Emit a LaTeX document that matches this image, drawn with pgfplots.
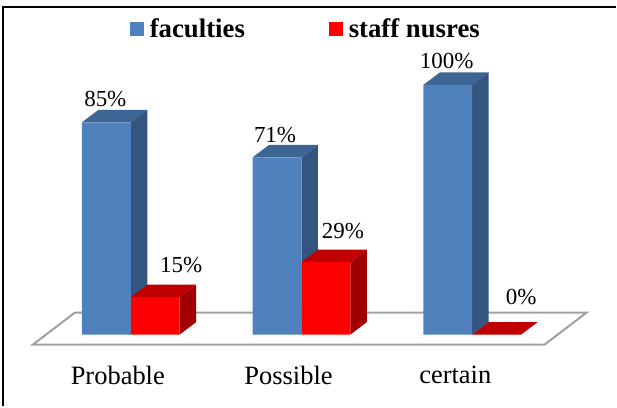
\documentclass[border=0pt]{standalone}
\usepackage{pgfplots}
\pgfplotsset{compat=1.18}
\usepackage{fontspec}
\setmainfont{Liberation Serif}
\definecolor{bluefront}{HTML}{4F81BD}
\definecolor{blueside}{HTML}{34557F}
\definecolor{bluetop}{HTML}{3D6594}
\definecolor{redfront}{HTML}{FF0000}
\definecolor{redside}{HTML}{A00000}
\definecolor{redtop}{HTML}{C00000}
\definecolor{floorline}{HTML}{A0A0A0}
\newcommand{\vallabel}[3]{\node[font=\fontsize{23}{25}\selectfont, inner sep=0pt] at (axis cs:#1,#2) {#3};}
\begin{document}
\begin{tikzpicture}
\begin{axis}[
scale only axis,
width=617pt,
height=407pt,
xmin=0, xmax=617,
ymin=-28.8, ymax=134,
axis line style={draw=none},
major tick length=0pt,
ytick=\empty,
xtick={118,289,456},
xticklabels={Probable,Possible,certain},
xticklabel style={font=\fontsize{26.5}{28}\selectfont, yshift=44pt},
clip=false,
legend columns=2,
legend cell align=left,
legend style={
  draw=none, fill=none, inner sep=0pt,
  at={(0.4965,0.9287)}, anchor=center,
  font=\fontsize{26.8}{29}\selectfont\bfseries,
  /tikz/every even column/.append style={column sep=82pt},
},
]
% frame, only top and left show in the crop
\addplot[black, line width=2pt, forget plot] coordinates {(3,-28.8) (3,131.4) (617,131.4)};
% floor
\addplot[floorline, line width=2pt, forget plot] coordinates {(33,-4) (75,8.8) (587.5,8.8) (545.5,-4)} -- cycle;

% faculties, top and side faces
\addplot[fill=bluetop, draw=none, forget plot] coordinates {(82,85) (131,85) (147.5,90) (98.5,90)} -- cycle;
\addplot[fill=blueside, draw=none, forget plot] coordinates {(131,0) (147.5,5) (147.5,90) (131,85)} -- cycle;
\addplot[fill=bluetop, draw=none, forget plot] coordinates {(253,71) (302,71) (318.5,76) (269.5,76)} -- cycle;
\addplot[fill=blueside, draw=none, forget plot] coordinates {(302,0) (318.5,5) (318.5,76) (302,71)} -- cycle;
\addplot[fill=bluetop, draw=none, forget plot] coordinates {(424,100) (473,100) (489.5,105) (440.5,105)} -- cycle;
\addplot[fill=blueside, draw=none, forget plot] coordinates {(473,0) (489.5,5) (489.5,105) (473,100)} -- cycle;
\addplot[ybar, bar width=49pt, bar shift=-24.5pt, fill=bluefront, draw=none,
  legend image code/.code={\fill[bluefront] (0pt,-7pt) rectangle (14pt,7pt); \path (18pt,0pt);}]
  coordinates {(131,85) (302,71) (473,100)};
\addlegendentry{faculties}

% staff nurses, top and side faces
\addplot[fill=redtop, draw=none, forget plot] coordinates {(131,15) (180,15) (196.5,20) (147.5,20)} -- cycle;
\addplot[fill=redside, draw=none, forget plot] coordinates {(180,0) (196.5,5) (196.5,20) (180,15)} -- cycle;
\addplot[fill=redtop, draw=none, forget plot] coordinates {(302,29) (351,29) (367.5,34) (318.5,34)} -- cycle;
\addplot[fill=redside, draw=none, forget plot] coordinates {(351,0) (367.5,5) (367.5,34) (351,29)} -- cycle;
\addplot[fill=redtop, draw=none, forget plot] coordinates {(473,0) (522,0) (538.5,5) (489.5,5)} -- cycle;
\addplot[ybar, bar width=49pt, bar shift=24.5pt, fill=redfront, draw=none,
  legend image code/.code={\fill[redfront] (0pt,-7pt) rectangle (14pt,7pt); \path (18pt,0pt);}]
  coordinates {(131,15) (302,29) (473,0)};
\addlegendentry{staff nusres}

\vallabel{105.5}{94.2}{85\%}
\vallabel{275.5}{80}{71\%}
\vallabel{447.5}{109.6}{100\%}
\vallabel{181.5}{28}{15\%}
\vallabel{343.5}{41.6}{29\%}
\vallabel{522}{15.2}{0\%}
\end{axis}
\end{tikzpicture}
\end{document}
